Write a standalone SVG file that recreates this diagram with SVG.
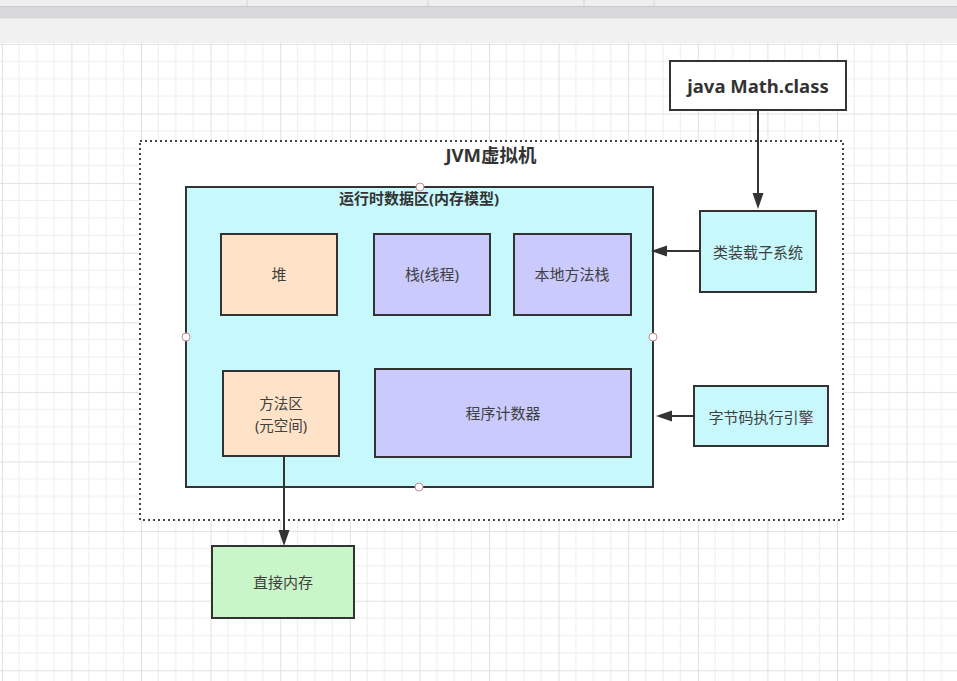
<svg xmlns="http://www.w3.org/2000/svg" width="957" height="681" viewBox="0 0 957 681">
<style>
.box{stroke:#333;stroke-width:2}
.lbl{font-family:"Noto Sans","Noto Sans CJK SC",sans-serif;font-size:15px;fill:#404040;text-anchor:middle;dominant-baseline:central}
.bold{font-weight:bold;fill:#333}
.conn{stroke:#333;stroke-width:2;fill:none;marker-end:url(#arr)}
.handle{fill:#fff;stroke:#c88;stroke-width:1}
</style>
<defs>
<pattern id="grid" patternUnits="userSpaceOnUse" x="1.8" y="43.9" width="69.6" height="69.6">
<rect width="69.6" height="69.6" fill="#fff"/>
<path d="M17.4 0V69.6M34.8 0V69.6M52.2 0V69.6M0 17.4H69.6M0 34.8H69.6M0 52.2H69.6" stroke="#eeeeee" stroke-width="1"/>
<path d="M0.5 0V69.6M0 0.5H69.6" stroke="#e1e1e1" stroke-width="1"/>
</pattern>
<marker id="arr" markerUnits="userSpaceOnUse" markerWidth="17" markerHeight="14" viewBox="0 0 17 14" refX="7" refY="7" orient="auto">
<path d="M0,1.5 L16,7 L0,12.5 z" fill="#333"/>
</marker>
</defs>
<!-- editor chrome -->
<rect x="0" y="0" width="957" height="681" fill="#f1f1f1"/>
<rect x="0" y="0" width="957" height="6" fill="#efefef"/>
<path d="M247 0V6M428 0V6M584 0V6M654 0V6" stroke="#d6d6d6"/>
<rect x="0" y="6" width="957" height="12.5" fill="#d9d9dd"/>
<path d="M0 6.5H957" stroke="#c8c8cc"/>
<rect x="0" y="43" width="957" height="638" fill="url(#grid)"/>

<g id="jvm">
<rect x="140" y="141" width="703" height="379" fill="#fff" stroke="#444" stroke-width="2" stroke-dasharray="2 3"/>
<text class="lbl bold" x="491" y="154" style="font-size:18.5px">JVM虚拟机</text>
</g>
<g id="runtime">
<rect class="box" x="186" y="187" width="467" height="300" fill="#c6f8fc"/>
<text class="lbl bold" x="419" y="198" style="font-size:15px">运行时数据区(内存模型)</text>
</g>
<g id="heap">
<rect class="box" x="221" y="234" width="116" height="81" fill="#ffe3c8"/>
<text class="lbl" x="279" y="274">堆</text>
</g>
<g id="stack">
<rect class="box" x="374" y="234" width="116" height="81" fill="#cacafc"/>
<text class="lbl" x="432" y="274">栈(线程)</text>
</g>
<g id="native-stack">
<rect class="box" x="514" y="234" width="117" height="81" fill="#cacafc"/>
<text class="lbl" x="572" y="274">本地方法栈</text>
</g>
<g id="method-area">
<rect class="box" x="223" y="371" width="116" height="85" fill="#ffe3c8"/>
<text class="lbl" x="281" y="403" style="font-size:14.5px">方法区</text>
<text class="lbl" x="281" y="425" style="font-size:14.5px">(元空间)</text>
</g>
<g id="pc">
<rect class="box" x="375" y="369" width="256" height="88" fill="#cacafc"/>
<text class="lbl" x="503" y="413">程序计数器</text>
</g>
<g id="class-file">
<rect class="box" x="670" y="61" width="176" height="49" fill="#fff"/>
<text class="lbl bold" x="758" y="85" style="font-size:18.5px">java Math.class</text>
</g>
<g id="class-loader">
<rect class="box" x="700" y="211" width="116" height="81" fill="#c6f8fc"/>
<text class="lbl" x="758" y="252">类装载子系统</text>
</g>
<g id="engine">
<rect class="box" x="694" y="386" width="134" height="60" fill="#c6f8fc"/>
<text class="lbl" x="761" y="417">字节码执行引擎</text>
</g>
<g id="direct-memory">
<rect class="box" x="212" y="546" width="142" height="72" fill="#c8f6c8"/>
<text class="lbl" x="283" y="582">直接内存</text>
</g>
<g id="connectors">
<path class="conn" d="M758 110V200"/>
<path class="conn" d="M700 251H660"/>
<path class="conn" d="M694 416H665"/>
<path class="conn" d="M284 456V537"/>
</g>
<g id="handles">
<circle class="handle" cx="420" cy="187" r="4"/>
<circle class="handle" cx="186" cy="337" r="4"/>
<circle class="handle" cx="653" cy="337" r="4"/>
<circle class="handle" cx="419" cy="487" r="4"/>
</g>
</svg>
